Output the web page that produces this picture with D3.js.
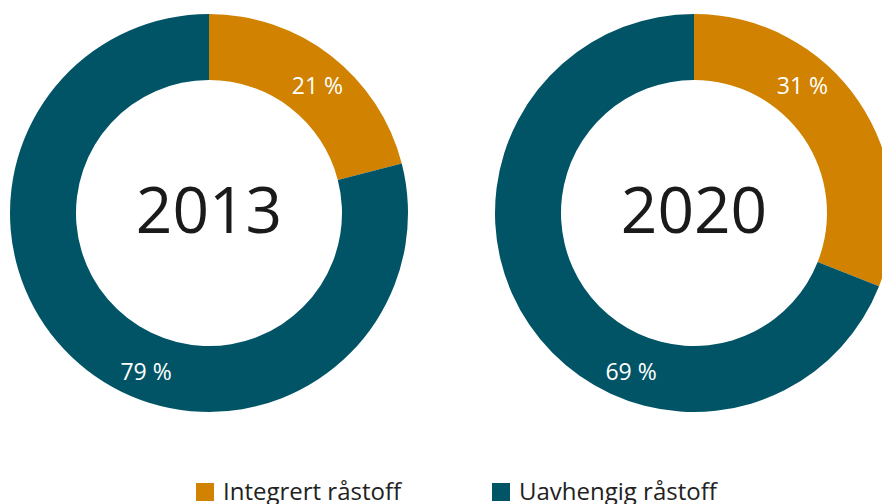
<!DOCTYPE html>
<html>
<head>
<meta charset="utf-8">
<script src="https://cdn.jsdelivr.net/npm/d3@7"></script>
<style>
  body { margin: 0; background: #fff; }
  svg { display: block; font-family: "Open Sans", sans-serif; }
</style>
</head>
<body>
<div class="container"></div>
<script>
const WIDTH = 882;
const HEIGHT = 504;
const OUTER = 199;
const INNER = 133;
const CY = 213;

// data
const years = ['2013', '2020'];
const categories = ['Integrert råstoff', 'Uavhengig råstoff'];
const shares2013 = [21, 79];
const shares2020 = [31, 69];
const colors = ['#d08200', '#005466'];

const series = [shares2013, shares2020];
const centersX = [209, 694];

const svg = d3.select('.container').append('svg')
  .attr('width', WIDTH)
  .attr('height', HEIGHT);

const pie = d3.pie().sort(null).value(d => d);
const arc = d3.arc().innerRadius(INNER).outerRadius(OUTER);
const color = d3.scaleOrdinal().domain(categories).range(colors);

const midR = (INNER + OUTER) / 2;

series.forEach(function(vals, k) {
  const g = svg.append('g')
    .attr('transform', 'translate(' + centersX[k] + ',' + CY + ')');

  const arcs = pie(vals);

  g.selectAll('path')
    .data(arcs)
    .enter().append('path')
    .attr('d', arc)
    .attr('fill', (d, i) => color(categories[i]));

  // labels: upper slice label sits high, lower one sits low, x follows the ring
  g.selectAll('text.lbl')
    .data(arcs)
    .enter().append('text')
    .attr('class', 'lbl')
    .attr('text-anchor', 'middle')
    .attr('fill', '#fff')
    .attr('font-size', 23)
    .each(function(d, i) {
      const mid = (d.startAngle + d.endAngle) / 2;
      let y, r;
      if (i === 0) { y = -127; r = midR + 1; } else { y = 159; r = midR + 5; }
      const side = Math.sin(mid) >= 0 ? 1 : -1;
      const x = side * Math.sqrt(r * r - y * y);
      d3.select(this).attr('x', x).attr('y', y + 8);
    })
    .text(d => d.data + ' %');

  g.append('text')
    .attr('text-anchor', 'middle')
    .attr('y', 20)
    .attr('font-size', 64)
    .attr('fill', '#1a1a1a')
    .text(years[k]);
});

// legend
const legendX = [196, 492];
const legend = svg.append('g');
categories.forEach(function(c, i) {
  legend.append('rect')
    .attr('x', legendX[i])
    .attr('y', 483)
    .attr('width', 18)
    .attr('height', 18)
    .attr('fill', color(c));
  legend.append('text')
    .attr('x', legendX[i] + 27)
    .attr('y', 500)
    .attr('font-size', 24)
    .attr('fill', '#222')
    .text(c);
});
</script>
</body>
</html>
